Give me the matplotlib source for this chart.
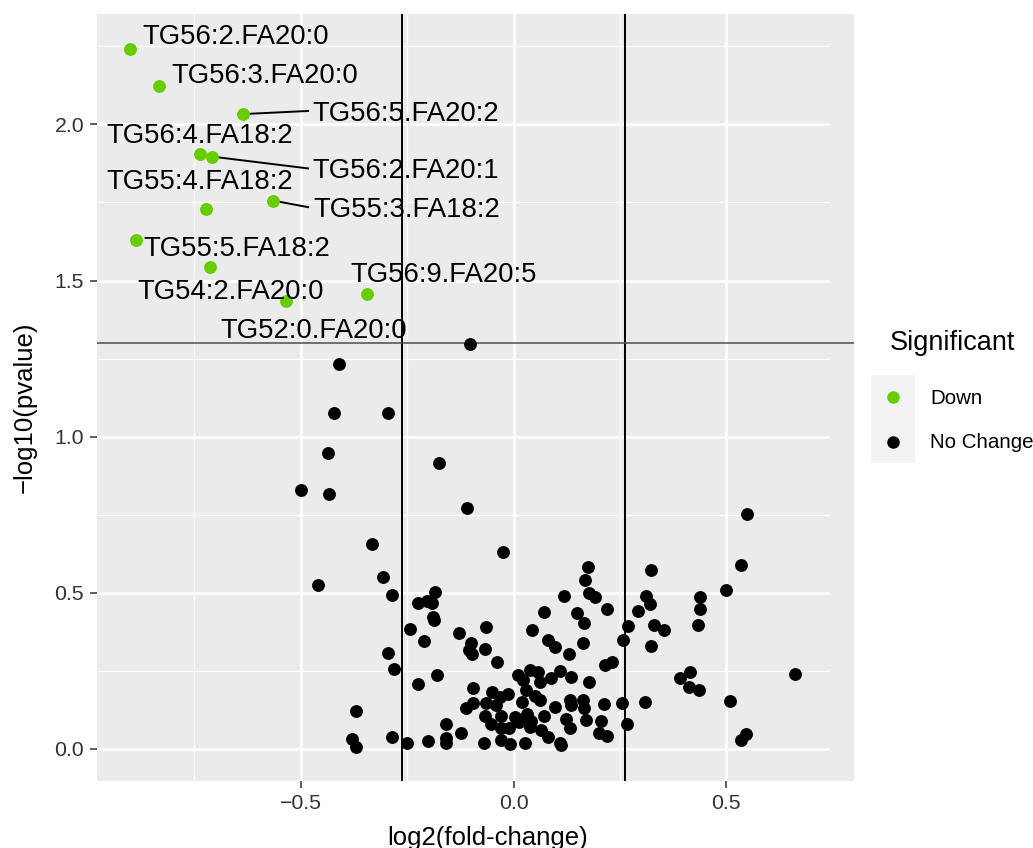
import matplotlib
matplotlib.use("Agg")
import matplotlib.pyplot as plt
from matplotlib.patches import Rectangle
from matplotlib.lines import Line2D

plt.rcParams["font.family"] = ["Liberation Sans", "DejaVu Sans"]

PANEL = "#EBEBEB"
GREEN = "#66CD00"
TICK_TXT = "#333333"

# significant (Down) lipids
DOWN_NAMES = ["TG56:2.FA20:0", "TG56:3.FA20:0", "TG56:5.FA20:2", "TG56:4.FA18:2",
              "TG56:2.FA20:1", "TG55:3.FA18:2", "TG55:4.FA18:2", "TG55:5.FA18:2",
              "TG54:2.FA20:0", "TG56:9.FA20:5", "TG52:0.FA20:0"]
DOWN_X = [-0.902, -0.834, -0.636, -0.737, -0.709, -0.565, -0.722, -0.887,
          -0.714, -0.345, -0.535]
DOWN_Y = [2.241, 2.122, 2.033, 1.905, 1.897, 1.756, 1.728, 1.630,
          1.542, 1.457, 1.433]

# no-change lipids
NC_X = [-0.102, -0.410, -0.421, -0.295, -0.435, -0.176, -0.500, -0.433, -0.110, 0.549,
        -0.333, -0.026, 0.176, 0.323, 0.535, -0.459, -0.307, 0.167, -0.286, -0.184,
        -0.224, -0.204, -0.191, 0.500, 0.439, 0.438, -0.190, -0.188, 0.433, -0.243,
        -0.210, -0.294, -0.281, -0.179, -0.224, 0.415, 0.392, 0.412, 0.435, 0.662,
        0.509, -0.370, -0.380, -0.371, -0.286, -0.251, -0.200, 0.546, 0.535,
        0.118, 0.177, 0.192, 0.312, 0.321, 0.072, 0.149, 0.166, 0.219, 0.293,
        0.269, 0.330, 0.353, -0.129, -0.065, -0.101, -0.105, -0.098, -0.068, 0.043,
        0.081, 0.097, 0.164, 0.130, 0.256, 0.322, -0.038, 0.214, 0.232, 0.011,
        0.038, 0.058, 0.022, 0.061, 0.087, 0.110, 0.136, 0.177, -0.095, -0.051,
        -0.013, -0.033, 0.030, 0.050, 0.061, 0.020, -0.095, -0.113, -0.065, -0.042,
        0.097, 0.132, 0.136, 0.162, 0.166, 0.212, 0.254, 0.309, -0.066, -0.029,
        0.003, 0.032, 0.013, 0.042, 0.072, 0.124, 0.171, 0.205, -0.160, -0.052,
        0.038, 0.132, 0.267, -0.029, -0.011, 0.065, -0.123, 0.200, 0.220, 0.081,
        -0.160, -0.160, -0.069, -0.030, -0.009, 0.028, 0.108, 0.111]
NC_Y = [1.297, 1.233, 1.076, 1.076, 0.949, 0.915, 0.829, 0.817, 0.771, 0.754,
        0.657, 0.630, 0.584, 0.573, 0.589, 0.525, 0.550, 0.541, 0.492, 0.502,
        0.468, 0.474, 0.468, 0.509, 0.488, 0.448, 0.422, 0.412, 0.398, 0.385,
        0.347, 0.306, 0.255, 0.236, 0.209, 0.248, 0.227, 0.197, 0.188, 0.241,
        0.153, 0.122, 0.033, 0.005, 0.037, 0.020, 0.027, 0.048, 0.029,
        0.490, 0.500, 0.488, 0.490, 0.464, 0.438, 0.434, 0.404, 0.448, 0.443,
        0.395, 0.397, 0.381, 0.372, 0.390, 0.340, 0.317, 0.304, 0.320, 0.381,
        0.349, 0.326, 0.340, 0.304, 0.349, 0.331, 0.280, 0.269, 0.280, 0.237,
        0.253, 0.248, 0.221, 0.216, 0.226, 0.251, 0.230, 0.216, 0.194, 0.184,
        0.176, 0.166, 0.189, 0.170, 0.157, 0.151, 0.148, 0.130, 0.146, 0.141,
        0.135, 0.157, 0.141, 0.157, 0.130, 0.144, 0.146, 0.151, 0.106, 0.106,
        0.103, 0.112, 0.088, 0.091, 0.106, 0.095, 0.093, 0.091, 0.080, 0.080,
        0.071, 0.068, 0.080, 0.066, 0.066, 0.061, 0.052, 0.050, 0.043, 0.037,
        0.034, 0.018, 0.020, 0.029, 0.016, 0.020, 0.018, 0.013]

# label placement (text centre) and whether a leader segment is drawn
LABEL_POS = [(-0.654, 2.288), (-0.585, 2.166), (-0.253, 2.043), (-0.737, 1.973),
             (-0.253, 1.859), (-0.252, 1.735), (-0.737, 1.825), (-0.651, 1.612),
             (-0.666, 1.473), (-0.165, 1.526), (-0.470, 1.347)]
LABEL_SEG = [False, False, True, False, True, True, False, False, False, False, False]
SEG_END_X = -0.483

FC_CUT = 0.263   # log2(1.2)
P_CUT = 1.301    # -log10(0.05)
XLIM = (-0.979, 0.800)
YLIM = (-0.1025, 2.3535)
GRID_XMAX = 0.741


def main():
    W, H = 1033, 848
    fig = plt.figure(figsize=(W / 100, H / 100), dpi=100)
    ax = fig.add_axes([97 / W, (H - 781) / H, (854 - 97) / W, (781 - 14) / H])
    ax.set_facecolor(PANEL)
    for s in ax.spines.values():
        s.set_visible(False)

    # ggplot-like grid (horizontal lines stop short of the right edge)
    for y in [0.25, 0.75, 1.25, 1.75, 2.25]:
        ax.hlines(y, XLIM[0], GRID_XMAX, color="white", lw=0.9, zorder=0.5)
    for y in [0, 0.5, 1.0, 1.5, 2.0]:
        ax.hlines(y, XLIM[0], GRID_XMAX, color="white", lw=1.9, zorder=0.6)
    for x in [-0.75, -0.25, 0.25]:
        ax.axvline(x, color="white", lw=0.9, zorder=0.5)
    for x in [-0.5, 0, 0.5]:
        ax.axvline(x, color="white", lw=1.9, zorder=0.6)

    ax.axvline(-FC_CUT, color="black", lw=1.4, zorder=1)
    ax.axvline(FC_CUT, color="black", lw=1.4, zorder=1)
    ax.axhline(P_CUT, color="#4D4D4D", lw=1.1, zorder=1)

    ax.scatter(NC_X, NC_Y, s=86, color="black", linewidths=0, zorder=3)
    ax.scatter(DOWN_X, DOWN_Y, s=86, color=GREEN, linewidths=0, zorder=3)

    for name, px, py, (tx, ty), seg in zip(DOWN_NAMES, DOWN_X, DOWN_Y, LABEL_POS, LABEL_SEG):
        if seg:
            ax.plot([px, SEG_END_X], [py, ty], color="black", lw=1.4, zorder=2)
        ax.text(tx, ty - 0.032, name, ha="center", va="baseline", fontsize=19.8,
                color="black", zorder=4)

    ax.set_xlim(*XLIM)
    ax.set_ylim(*YLIM)
    ax.set_xticks([-0.5, 0.0, 0.5])
    ax.set_xticklabels(["\u22120.5", "0.0", "0.5"])
    ax.set_yticks([0.0, 0.5, 1.0, 1.5, 2.0])
    ax.set_yticklabels(["0.0", "0.5", "1.0", "1.5", "2.0"])
    ax.tick_params(length=4.8, width=1.1, color="#333333", labelcolor=TICK_TXT,
                   labelsize=15.3, pad=4.5)

    fig.text(488 / W, 3 / H, "log2(fold-change)", ha="center", va="baseline",
             fontsize=18.5, color="black")
    fig.text(25 / W, 1 - 407 / H, "\u2212log10(pvalue)", ha="center", va="center",
             rotation=90, fontsize=18.5, color="black")

    # legend drawn by hand (ggplot key style)
    fig.text(890 / W, 1 - 350 / H, "Significant", ha="left", va="baseline",
             fontsize=19.5, color="black")
    fig.patches.append(Rectangle((871 / W, 1 - 463 / H), 44 / W, 88 / H,
                                 transform=fig.transFigure, facecolor="#F2F2F2",
                                 edgecolor="none"))
    for yk, col, lab, yb in [(397, GREEN, "Down", 404), (442, "black", "No Change", 448)]:
        fig.add_artist(Line2D([893 / W], [1 - yk / H], marker="o", markersize=9,
                              markeredgewidth=0, color=col, transform=fig.transFigure))
        fig.text(930 / W, 1 - yb / H, lab, ha="left", va="baseline",
                 fontsize=14.8, color="black")

    fig.savefig("out.png", dpi=100)


if __name__ == "__main__":
    main()
